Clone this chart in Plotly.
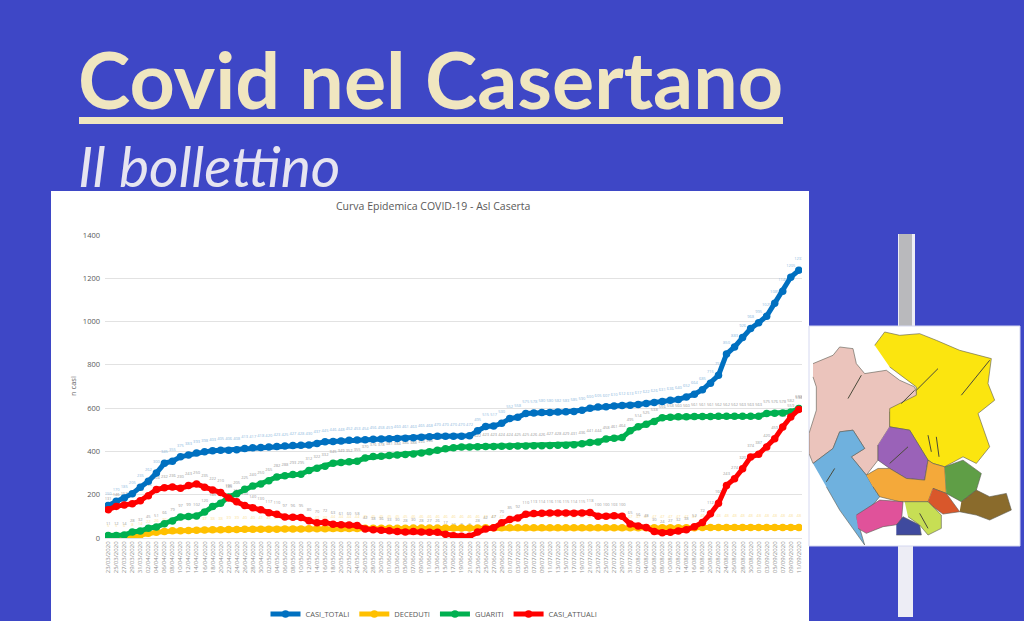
import plotly.graph_objects as go

# Dates on the category axis, one every two days
DATES = [
    "23/03/2020", "25/03/2020", "27/03/2020", "29/03/2020", "31/03/2020",
    "02/04/2020", "04/04/2020", "06/04/2020", "08/04/2020", "10/04/2020", "12/04/2020", "14/04/2020",
    "16/04/2020", "18/04/2020", "20/04/2020", "22/04/2020", "24/04/2020", "26/04/2020", "28/04/2020", "30/04/2020",
    "02/05/2020", "04/05/2020", "06/05/2020", "08/05/2020", "10/05/2020", "12/05/2020", "14/05/2020",
    "16/05/2020", "18/05/2020", "20/05/2020", "22/05/2020", "24/05/2020", "26/05/2020", "28/05/2020", "30/05/2020",
    "01/06/2020", "03/06/2020", "05/06/2020", "07/06/2020", "09/06/2020", "11/06/2020", "13/06/2020",
    "15/06/2020", "17/06/2020", "19/06/2020", "21/06/2020", "23/06/2020", "25/06/2020", "27/06/2020", "29/06/2020",
    "01/07/2020", "03/07/2020", "05/07/2020", "07/07/2020", "09/07/2020", "11/07/2020", "13/07/2020",
    "15/07/2020", "17/07/2020", "19/07/2020", "21/07/2020", "23/07/2020", "25/07/2020", "27/07/2020", "29/07/2020", "31/07/2020",
    "02/08/2020", "04/08/2020", "06/08/2020", "08/08/2020", "10/08/2020", "12/08/2020", "14/08/2020",
    "16/08/2020", "18/08/2020", "20/08/2020", "22/08/2020", "24/08/2020", "26/08/2020", "28/08/2020", "30/08/2020",
    "01/09/2020", "03/09/2020", "05/09/2020", "07/09/2020", "09/09/2020", "11/09/2020",
]

CASI_TOTALI = [
    150, 170, 185, 205, 235, 262, 300, 345, 355, 375,
    383, 393, 398, 403, 405, 406, 408, 413, 417, 418,
    420, 423, 425, 427, 428, 430, 437, 445, 446, 448,
    452, 453, 454, 456, 458, 459, 460, 461, 463, 465,
    468, 470, 470, 470, 470, 472, 495, 515, 517, 530,
    552, 558, 575, 578, 580, 580, 582, 583, 585, 590,
    600, 605, 607, 610, 612, 613, 617, 622, 626, 631,
    636, 640, 652, 664, 685, 715, 752, 850, 883, 926,
    968, 995, 1025, 1085, 1140, 1205, 1237,
]
DECEDUTI = [
    5, 5, 6, 8, 14, 22, 26, 30, 33, 34,
    35, 36, 37, 38, 38, 39, 39, 40, 40, 41,
    41, 41, 42, 42, 42, 43, 43, 43, 44, 44,
    44, 44, 45, 45, 45, 45, 45, 45, 46, 46,
    46, 46, 46, 46, 46, 46, 46, 47, 47, 47,
    47, 47, 47, 47, 47, 47, 47, 47, 47, 47,
    47, 47, 47, 47, 47, 47, 47, 47, 47, 47,
    47, 47, 47, 47, 48, 48, 48, 48, 48, 48,
    48, 48, 48, 48, 48, 48, 48,
]
GUARITI = [
    11, 12, 14, 28, 32, 45, 51, 66, 79, 97,
    99, 102, 120, 145, 160, 190, 205, 225, 240, 250,
    265, 282, 288, 293, 295, 312, 322, 332, 345, 349,
    352, 355, 370, 376, 378, 381, 384, 386, 388, 393,
    398, 405, 412, 417, 420, 421, 422, 423, 423, 424,
    424, 425, 425, 426, 426, 427, 428, 429, 431, 436,
    441, 444, 458, 461, 464, 495, 514, 525, 538, 556,
    558, 560, 560, 561, 561, 561, 562, 562, 562, 563,
    563, 563, 575, 576, 578, 582, 598,
]
CASI_ATTUALI = [
    131, 146, 153, 158, 172, 195, 224, 232, 236, 230,
    243, 250, 235, 222, 210, 185, 168, 150, 140, 130,
    117, 110, 97, 96, 95, 80, 70, 72, 63, 61,
    60, 58, 42, 38, 36, 33, 30, 28, 30, 28,
    27, 26, 17, 10, 8, 8, 28, 42, 47, 70,
    85, 92, 110, 113, 114, 116, 116, 115, 114, 115,
    118, 100, 100, 103, 100, 65, 56, 48, 30, 24,
    27, 32, 38, 52, 72, 112, 160, 243, 274, 320,
    374, 387, 420, 459, 513, 559, 594,
]
Y_TICKS = [0, 200, 400, 600, 800, 1000, 1200, 1400]

# name, values, line colour, data label colour
SERIES = [
    ("CASI_TOTALI", CASI_TOTALI, "#0070C0", "#8DB9E0"),
    ("DECEDUTI", DECEDUTI, "#FFC000", "#FBE39A"),
    ("GUARITI", GUARITI, "#00B050", "#9A9A9A"),
    ("CASI_ATTUALI", CASI_ATTUALI, "#FF0000", "#9A9A9A"),
]

# Province map in the inset, traced by eye: colour, outline x, outline y
MAP_AREAS = [
    ("#EBC4BC", [640, 700, 720, 760, 770, 795, 860, 900, 945, 955, 900, 870, 870, 835, 835, 800, 755, 795, 760, 720, 700, 640, 628, 628, 650, 650, 640],
     [400, 375, 350, 355, 400, 430, 420, 450, 470, 500, 530, 545, 590, 645, 690, 735, 680, 655, 600, 605, 655, 700, 670, 610, 540, 470, 440]),
    ("#FBE50F", [825, 855, 900, 960, 1010, 1080, 1175, 1165, 1185, 1135, 1170, 1130, 1090, 1035, 1000, 985, 930, 870, 870, 950, 950, 870],
     [345, 305, 315, 310, 330, 360, 385, 460, 510, 550, 650, 700, 680, 710, 700, 690, 600, 590, 535, 495, 470, 410]),
    ("#9A62B8", [870, 930, 985, 975, 920, 870, 835, 835],
     [590, 600, 690, 750, 745, 715, 690, 645]),
    ("#6FB1DE", [640, 700, 720, 760, 795, 755, 800, 820, 840, 815, 770, 795, 720, 680],
     [700, 655, 605, 600, 655, 680, 735, 770, 800, 830, 860, 945, 840, 770]),
    ("#F4A93A", [800, 835, 870, 920, 975, 985, 1000, 1035, 1040, 1000, 985, 900, 840, 820],
     [735, 715, 715, 745, 750, 690, 700, 710, 790, 775, 815, 815, 800, 770]),
    ("#5F9E46", [1035, 1090, 1145, 1130, 1085, 1040],
     [710, 690, 730, 780, 815, 790]),
    ("#8A6B2C", [1085, 1130, 1170, 1220, 1235, 1170, 1130, 1080],
     [815, 780, 800, 790, 840, 870, 855, 845]),
    ("#D9572B", [1000, 1040, 1080, 1030, 1000, 985],
     [775, 790, 845, 852, 830, 815]),
    ("#E0529A", [770, 840, 910, 905, 885, 850, 800, 775],
     [855, 810, 815, 880, 885, 890, 910, 895]),
    ("#3F4A9E", [890, 910, 960, 965, 890],
     [885, 860, 885, 915, 915]),
    ("#C7DE54", [915, 985, 1025, 1025, 985, 960, 925],
     [815, 815, 855, 895, 915, 885, 860]),
]
# Darker district streaks drawn over the areas
MAP_STREAKS_X = [[745, 785], [905, 945], [950, 1015], [1085, 1170], [985, 995], [1010, 1018], [870, 925], [680, 705], [960, 985]]
MAP_STREAKS_Y = [[505, 435], [520, 480], [480, 415], [495, 390], [615, 665], [620, 680], [700, 650], [755, 715], [850, 895]]

W, H = 1024, 621
BG = "#3E47C6"
CREAM = "#F0E6C0"


def px_x(x):
    return x / W


def px_y(y):
    return 1 - y / H


fig = go.Figure()

# data labels first so the thick lines sit on top of them
for name, values, color, label_color in SERIES:
    fig.add_trace(go.Scatter(
        x=DATES, y=values, mode="markers+text", text=[str(v) for v in values],
        textposition="top center", textfont=dict(size=4, color=label_color, family="Open Sans"),
        marker=dict(size=13, opacity=0), showlegend=False, hoverinfo="skip"))
for name, values, color, label_color in SERIES:
    fig.add_trace(go.Scatter(
        x=DATES, y=values, mode="lines+markers", name=name,
        line=dict(color=color, width=5), marker=dict(color=color, size=7.5)))

for color, xs, ys in MAP_AREAS:
    fig.add_trace(go.Scatter(
        x=xs, y=ys, xaxis="x2", yaxis="y2", mode="lines", fill="toself", fillcolor=color,
        line=dict(color="#5A5A50", width=0.6), showlegend=False, hoverinfo="skip"))
for xs, ys in zip(MAP_STREAKS_X, MAP_STREAKS_Y):
    fig.add_trace(go.Scatter(
        x=xs, y=ys, xaxis="x2", yaxis="y2", mode="lines",
        line=dict(color="#4A4A3A", width=1), showlegend=False, hoverinfo="skip"))

shapes = [
    # post behind the map
    dict(type="rect", xref="paper", yref="paper", x0=px_x(898), x1=px_x(915), y0=px_y(327), y1=px_y(234),
         fillcolor="#EDEDF5", line_width=0, layer="below"),
    dict(type="rect", xref="paper", yref="paper", x0=px_x(899), x1=px_x(912), y0=px_y(327), y1=px_y(234),
         fillcolor="#B9B9BC", line_width=0, layer="below"),
    dict(type="rect", xref="paper", yref="paper", x0=px_x(898), x1=px_x(913), y0=px_y(617), y1=px_y(546),
         fillcolor="#EDEDF5", line_width=0, layer="below"),
    # white panels
    dict(type="rect", xref="paper", yref="paper", x0=px_x(51), x1=px_x(809), y0=0, y1=px_y(191),
         fillcolor="white", line_width=0, layer="below"),
    dict(type="rect", xref="paper", yref="paper", x0=px_x(809), x1=px_x(1020), y0=px_y(546), y1=px_y(326),
         fillcolor="white", line=dict(color="#D5D8F0", width=1), layer="below"),
    # heading rule
    dict(type="rect", xref="paper", yref="paper", x0=px_x(79), x1=px_x(783), y0=px_y(124), y1=px_y(117),
         fillcolor=CREAM, line_width=0, layer="below"),
]

annotations = [
    dict(text="<b>Covid nel Casertano</b>", xref="paper", yref="paper", x=px_x(76), y=px_y(78),
         xanchor="left", yanchor="middle", showarrow=False, font=dict(family="Lato", size=79, color=CREAM)),
    dict(text="<i>Il bollettino</i>", xref="paper", yref="paper", x=px_x(76), y=px_y(165),
         xanchor="left", yanchor="middle", showarrow=False, font=dict(family="Lato", size=57, color="#E6E4F0")),
    dict(text="Curva Epidemica COVID-19 - Asl Caserta", xref="paper", yref="paper", x=px_x(433), y=px_y(206),
         xanchor="center", yanchor="middle", showarrow=False, font=dict(family="Open Sans", size=10.5, color="#595959")),
    dict(text="n casi", xref="paper", yref="paper", x=px_x(73), y=px_y(386), textangle=-90,
         xanchor="center", yanchor="middle", showarrow=False, font=dict(family="Open Sans", size=7.5, color="#595959")),
]

fig.update_layout(
    width=W, height=H,
    margin=dict(l=0, r=0, t=0, b=0, autoexpand=False),
    paper_bgcolor=BG, plot_bgcolor="rgba(0,0,0,0)",
    shapes=shapes, annotations=annotations,
    xaxis=dict(domain=[px_x(105), px_x(802)], type="category", range=[-0.4, 86.4],
               tickmode="array", tickvals=DATES, ticktext=DATES, tickangle=-90, automargin=False,
               tickfont=dict(family="Open Sans", size=6, color="#8C8C8C"), ticks="", showgrid=False,
               showline=True, linecolor="#E2E2E2", linewidth=1, anchor="y"),
    yaxis=dict(domain=[px_y(538), px_y(235)], range=[0, 1400], tickvals=Y_TICKS, automargin=False,
               tickfont=dict(family="Open Sans", size=7.5, color="#595959"), ticks="",
               showgrid=True, gridcolor="#E2E2E2", gridwidth=1, zeroline=False, anchor="x", ticklabelstandoff=4),
    # inset map axes, in the inset's own units
    xaxis2=dict(domain=[px_x(809), px_x(1019)], range=[628, 1258], visible=False, anchor="y2"),
    yaxis2=dict(domain=[px_y(546), px_y(327)], range=[948, 290], visible=False, anchor="x2"),
    legend=dict(orientation="h", x=px_x(434), xanchor="center", y=px_y(614), yanchor="middle",
                font=dict(family="Open Sans", size=7.5, color="#595959"), bgcolor="rgba(0,0,0,0)",
                itemwidth=30),
    showlegend=True,
)

fig.write_html("out.html", config=dict(displayModeBar=False),
               post_script="document.body.style.margin='0';document.body.style.overflow='hidden';")
